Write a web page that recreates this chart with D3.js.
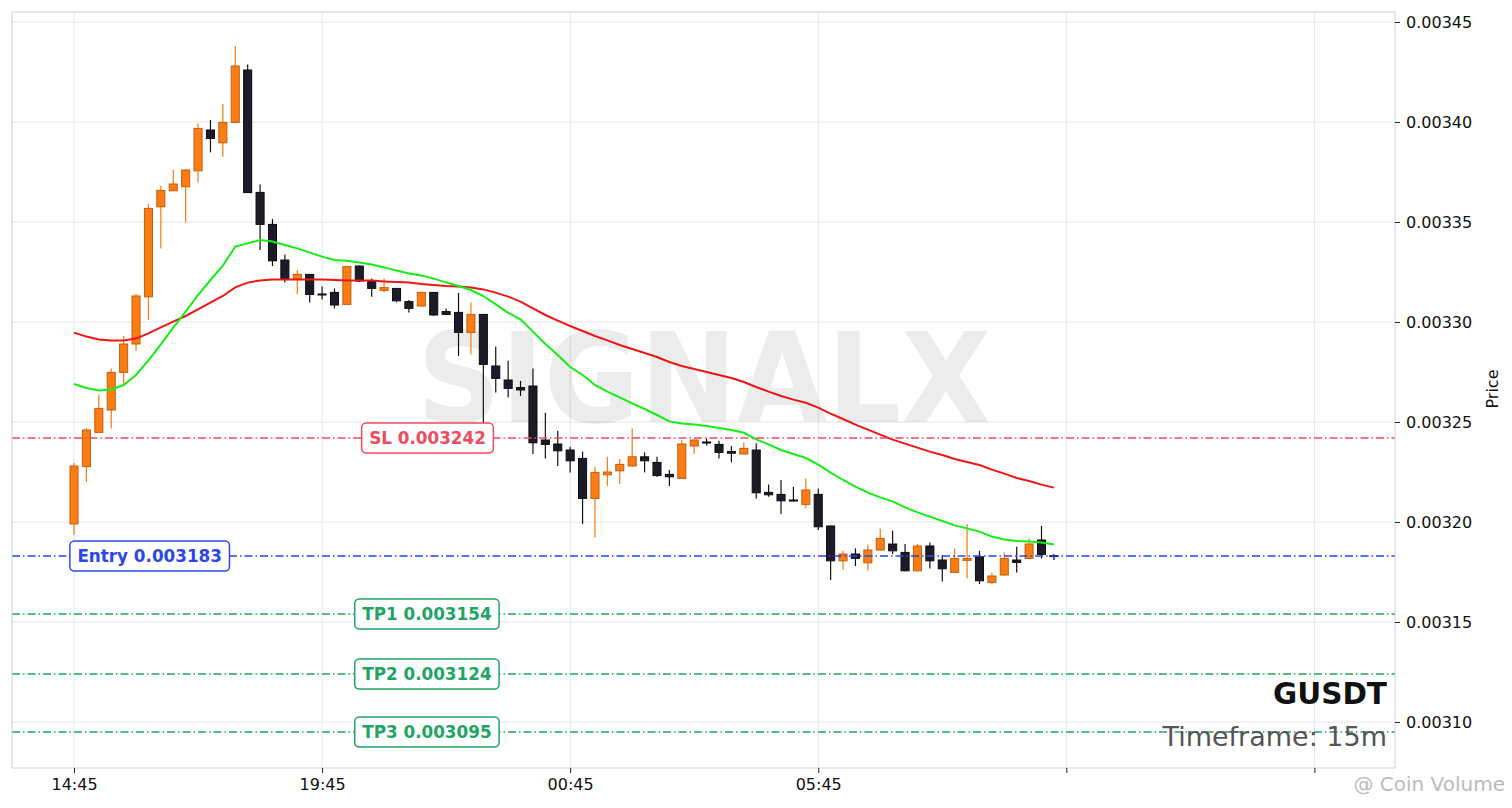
<!DOCTYPE html>
<html><head><meta charset="utf-8">
<script src="https://cdn.jsdelivr.net/npm/d3@7"></script>
<style>
html,body{margin:0;padding:0;background:#fff;}
svg{display:block;font-family:"DejaVu Sans",sans-serif;}
</style></head><body>
<svg id="chart" width="1512" height="808"></svg>
<script>
// ---------- data ----------
const symbol = "GUSDT";
const timeframeText = "Timeframe: 15m";
const watermarkText = "SIGNALX";
const socialText = "@ Coin Volume";
const tickIndex = [0, 20, 40, 60, 80, 100];
const tickLabels = ["14:45", "19:45", "00:45", "05:45", "", ""];
const priceTicks = [0.00310, 0.00315, 0.00320, 0.00325, 0.00330, 0.00335, 0.00340, 0.00345];

const openP = [0.0031990,0.0032277,0.0032448,0.0032560,0.0032748,0.0032890,0.0033126,0.0033576,0.0033656,0.0033676,
0.0033756,0.0033960,0.0033896,0.0033998,0.0034260,0.0033648,0.0033488,0.0033310,0.0033213,0.0033238,
0.0033140,0.0033148,0.0033088,0.0033280,0.0033202,0.0033158,0.0033168,0.0033102,0.0033080,0.0033148,
0.0033052,0.0033048,0.0032948,0.0033038,0.0032780,0.0032710,0.0032672,0.0032680,0.0032410,0.0032390,
0.0032360,0.0032318,0.0032118,0.0032236,0.0032256,0.0032280,0.0032326,0.0032298,0.0032238,0.0032218,
0.0032380,0.0032400,0.0032388,0.0032352,0.0032340,0.0032360,0.0032148,0.0032138,0.0032110,0.0032088,
0.0032138,0.0031980,0.0031806,0.0031840,0.0031796,0.0031860,0.0031890,0.0031848,0.0031756,0.0031880,
0.0031810,0.0031748,0.0031808,0.0031826,0.0031698,0.0031735,0.0031810,0.0031818,0.0031910,0.0031832];

const highP = [0.0032295,0.0032470,0.0032638,0.0032768,0.0032930,0.0033140,0.0033590,0.0033680,0.0033760,0.0033762,
0.0033993,0.0034010,0.0034090,0.0034380,0.0034288,0.0033688,0.0033516,0.0033338,0.0033260,0.0033240,
0.0033177,0.0033168,0.0033280,0.0033282,0.0033218,0.0033218,0.0033170,0.0033110,0.0033150,0.0033150,
0.0033068,0.0033146,0.0033098,0.0033040,0.0032876,0.0032806,0.0032706,0.0032768,0.0032546,0.0032456,
0.0032376,0.0032352,0.0032276,0.0032326,0.0032315,0.0032468,0.0032348,0.0032326,0.0032260,0.0032410,
0.0032412,0.0032418,0.0032406,0.0032380,0.0032398,0.0032394,0.0032188,0.0032210,0.0032176,0.0032218,
0.0032168,0.0031982,0.0031856,0.0031868,0.0031888,0.0031968,0.0031956,0.0031890,0.0031890,0.0031898,
0.0031835,0.0031868,0.0031990,0.0031856,0.0031746,0.0031848,0.0031876,0.0031918,0.0031980,0.0031840];

const lowP = [0.0031935,0.0032200,0.0032445,0.0032468,0.0032685,0.0032856,0.0033010,0.0033368,0.0033655,0.0033498,
0.0033698,0.0033848,0.0033826,0.0033996,0.0033645,0.0033360,0.0033280,0.0033198,0.0033140,0.0033098,
0.0033113,0.0033068,0.0033085,0.0033200,0.0033126,0.0033148,0.0033098,0.0033048,0.0033078,0.0033030,
0.0033035,0.0032830,0.0032838,0.0032496,0.0032648,0.0032622,0.0032630,0.0032340,0.0032318,0.0032280,
0.0032248,0.0031990,0.0031922,0.0032180,0.0032190,0.0032278,0.0032248,0.0032226,0.0032180,0.0032215,
0.0032340,0.0032382,0.0032318,0.0032298,0.0032338,0.0032118,0.0032126,0.0032040,0.0032102,0.0032068,
0.0031960,0.0031710,0.0031760,0.0031780,0.0031756,0.0031858,0.0031840,0.0031754,0.0031754,0.0031768,
0.0031702,0.0031746,0.0031718,0.0031690,0.0031690,0.0031730,0.0031748,0.0031815,0.0031818,0.0031810];

const closeP = [0.0032280,0.0032460,0.0032568,0.0032748,0.0032890,0.0033130,0.0033568,0.0033658,0.0033690,0.0033760,
0.0033968,0.0033918,0.0033998,0.0034280,0.0033647,0.0033488,0.0033306,0.0033213,0.0033238,0.0033138,
0.0033136,0.0033085,0.0033277,0.0033205,0.0033168,0.0033172,0.0033106,0.0033068,0.0033148,0.0033035,
0.0033038,0.0032948,0.0033038,0.0032788,0.0032718,0.0032668,0.0032660,0.0032396,0.0032388,0.0032356,
0.0032306,0.0032118,0.0032248,0.0032250,0.0032288,0.0032326,0.0032306,0.0032232,0.0032226,0.0032390,
0.0032410,0.0032398,0.0032348,0.0032344,0.0032368,0.0032146,0.0032136,0.0032106,0.0032108,0.0032160,
0.0031976,0.0031806,0.0031840,0.0031818,0.0031860,0.0031918,0.0031856,0.0031756,0.0031880,0.0031806,
0.0031766,0.0031818,0.0031818,0.0031706,0.0031730,0.0031818,0.0031798,0.0031890,0.0031838,0.0031830];

const emaFast = [0.0032690,0.0032670,0.0032657,0.0032663,0.0032685,0.0032735,0.0032808,0.0032888,0.0032972,0.0033052,
0.0033135,0.0033210,0.0033282,0.0033377,0.0033393,0.0033410,0.0033402,0.0033385,0.0033368,0.0033347,
0.0033327,0.0033310,0.0033306,0.0033298,0.0033287,0.0033273,0.0033257,0.0033243,0.0033233,0.0033217,
0.0033198,0.0033180,0.0033160,0.0033130,0.0033088,0.0033046,0.0033013,0.0032952,0.0032890,0.0032835,
0.0032775,0.0032735,0.0032685,0.0032652,0.0032623,0.0032593,0.0032565,0.0032535,0.0032503,0.0032493,
0.0032488,0.0032480,0.0032470,0.0032460,0.0032446,0.0032413,0.0032388,0.0032360,0.0032340,0.0032320,
0.0032287,0.0032247,0.0032210,0.0032177,0.0032147,0.0032123,0.0032103,0.0032073,0.0032048,0.0032027,
0.0032005,0.0031983,0.0031968,0.0031952,0.0031927,0.0031913,0.0031905,0.0031902,0.0031897,0.0031888];

const emaSlow = [0.0032947,0.0032927,0.0032913,0.0032907,0.0032907,0.0032917,0.0032943,0.0032973,0.0033002,0.0033030,
0.0033063,0.0033097,0.0033130,0.0033173,0.0033197,0.0033207,0.0033212,0.0033213,0.0033213,0.0033213,
0.0033212,0.0033210,0.0033208,0.0033207,0.0033207,0.0033203,0.0033200,0.0033197,0.0033190,0.0033185,
0.0033180,0.0033177,0.0033172,0.0033163,0.0033147,0.0033127,0.0033102,0.0033068,0.0033035,0.0033007,
0.0032980,0.0032955,0.0032930,0.0032908,0.0032885,0.0032865,0.0032845,0.0032825,0.0032800,0.0032780,
0.0032765,0.0032750,0.0032735,0.0032720,0.0032700,0.0032675,0.0032652,0.0032630,0.0032612,0.0032596,
0.0032572,0.0032542,0.0032515,0.0032487,0.0032462,0.0032437,0.0032412,0.0032392,0.0032372,0.0032352,
0.0032335,0.0032315,0.0032300,0.0032285,0.0032262,0.0032242,0.0032220,0.0032205,0.0032187,0.0032172];

const levelNames = ["SL", "Entry", "TP1", "TP2", "TP3"];
const levelValues = [0.003242, 0.003183, 0.003154, 0.003124, 0.003095];

// ---------- styles / layout ----------
const levelColors = ["#ee4a60", "#2a46ee", "#21a464", "#21a464", "#21a464"];
const levelLabelPos = [28.5, 6.1, 28.45, 28.45, 28.45];
const plot = {left: 12, top: 12, right: 1395, bottom: 768};

const svg = d3.select("#chart");
const x = d3.scaleLinear().domain([-5, 106.5]).range([plot.left, plot.right]);
const y = d3.scaleLinear().domain([0.003077, 0.003455]).range([plot.bottom, plot.top]);

const candles = openP.map((o, i) => ({i, o, h: highP[i], l: lowP[i], c: closeP[i]}));

// grid
const grid = svg.append("g");
grid.selectAll("line.h").data(priceTicks).join("line")
  .attr("x1", plot.left).attr("x2", plot.right)
  .attr("y1", d => y(d)).attr("y2", d => y(d))
  .attr("stroke", "#e6e6e6").attr("stroke-width", 1);
grid.selectAll("line.v").data(tickIndex).join("line")
  .attr("x1", d => x(d)).attr("x2", d => x(d))
  .attr("y1", plot.top).attr("y2", plot.bottom)
  .attr("stroke", "#e6e6e6").attr("stroke-width", 1);

// watermark
svg.append("text").attr("x", 704).attr("y", 422)
  .attr("text-anchor", "middle").attr("font-weight", "bold")
  .attr("font-size", 124).attr("fill", "#000").attr("fill-opacity", 0.075)
  .attr("textLength", 574).attr("lengthAdjust", "spacingAndGlyphs")
  .text(watermarkText);

// candles
const bw = (x(1) - x(0)) * 0.65;
const cg = svg.append("g");
candles.forEach(d => {
  const up = d.c >= d.o;
  cg.append("line").attr("x1", x(d.i)).attr("x2", x(d.i))
    .attr("y1", y(d.h)).attr("y2", y(d.l))
    .attr("stroke", up ? "#f57b12" : "#111111").attr("stroke-width", 1.2);
  const top = y(Math.max(d.o, d.c)), bot = y(Math.min(d.o, d.c));
  cg.append("rect").attr("x", x(d.i) - bw / 2).attr("width", bw)
    .attr("y", top).attr("height", Math.max(1, bot - top))
    .attr("fill", up ? "#fa7d16" : "#1e1a28")
    .attr("stroke", up ? "#c85d06" : "#0c0a10").attr("stroke-width", 1);
});

// moving averages
const line = d3.line().x((d, i) => x(i)).y(d => y(d));
svg.append("path").datum(emaSlow).attr("d", line)
  .attr("fill", "none").attr("stroke", "#ee1515").attr("stroke-width", 2);
svg.append("path").datum(emaFast).attr("d", line)
  .attr("fill", "none").attr("stroke", "#15ee15").attr("stroke-width", 2);

// level lines
levelValues.forEach((v, k) => {
  svg.append("line").attr("x1", plot.left).attr("x2", plot.right)
    .attr("y1", y(v)).attr("y2", y(v))
    .attr("stroke", levelColors[k]).attr("stroke-width", 1.4)
    .attr("stroke-dasharray", "8,3,1.5,3");
});
levelValues.forEach((v, k) => {
  const g = svg.append("g");
  const t = g.append("text").attr("x", x(levelLabelPos[k])).attr("y", y(v))
    .attr("text-anchor", "middle").attr("dy", "0.36em")
    .attr("font-weight", "bold").attr("font-size", 16.8)
    .attr("fill", levelColors[k])
    .text(levelNames[k] + " " + v.toFixed(6));
  const tw = t.node().getComputedTextLength();
  g.insert("rect", "text")
    .attr("x", x(levelLabelPos[k]) - tw / 2 - 7.5).attr("y", y(v) - 15)
    .attr("width", tw + 15).attr("height", 30).attr("rx", 4.5)
    .attr("fill", "#fff").attr("stroke", levelColors[k]).attr("stroke-width", 1.5);
});

// frame
svg.append("rect").attr("x", plot.left).attr("y", plot.top)
  .attr("width", plot.right - plot.left).attr("height", plot.bottom - plot.top)
  .attr("fill", "none").attr("stroke", "#d0d0d0").attr("stroke-width", 1);

// axes
const yAxis = d3.axisRight(y).tickValues(priceTicks).tickFormat(d3.format(".5f"))
  .tickSize(5).tickPadding(6);
const gy = svg.append("g").attr("transform", `translate(${plot.right},0)`).call(yAxis);
const xAxis = d3.axisBottom(x).tickValues(tickIndex).tickFormat((d, i) => tickLabels[i])
  .tickSize(5).tickPadding(6);
const gx = svg.append("g").attr("transform", `translate(0,${plot.bottom})`).call(xAxis);
[gx, gy].forEach(g => {
  g.select(".domain").remove();
  g.selectAll(".tick line").attr("stroke", "#222");
  g.selectAll(".tick text").attr("fill", "#111").attr("font-size", 16)
    .attr("font-family", "DejaVu Sans");
});

svg.append("text").attr("transform", "translate(1492,389) rotate(-90)")
  .attr("text-anchor", "middle").attr("dy", "0.35em")
  .attr("font-size", 16).attr("fill", "#111").text("Price");

// symbol and timeframe
svg.append("text").attr("x", 1387).attr("y", 704).attr("text-anchor", "end")
  .attr("font-weight", "bold").attr("font-size", 29.5).attr("fill", "#111").text(symbol);
svg.append("text").attr("x", 1387).attr("y", 746).attr("text-anchor", "end")
  .attr("font-size", 27).attr("fill", "#555").text(timeframeText);

// social watermark
svg.append("text").attr("x", 1505).attr("y", 791).attr("text-anchor", "end")
  .attr("font-size", 20).attr("fill", "#bbb").text(socialText);
</script>
</body></html>
